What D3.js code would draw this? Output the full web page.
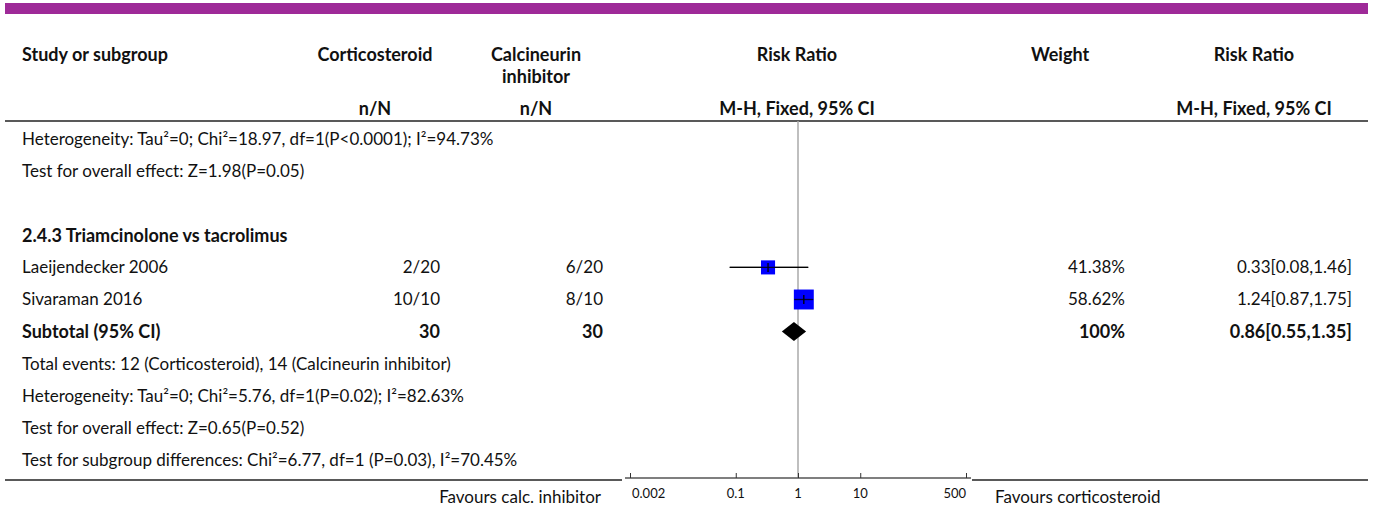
<!DOCTYPE html>
<html><head><meta charset="utf-8">
<script src="https://cdn.jsdelivr.net/npm/d3@7"></script>
<style>
html,body{margin:0;padding:0;background:#fff;}
svg text{font-family:"Lato","Roboto",sans-serif;fill:#111;}
</style></head>
<body><svg id="c" width="1375" height="508"></svg>
<script>
// ---- data ----
const headers1 = ["Study or subgroup","Corticosteroid","Calcineurin","Risk Ratio","Weight","Risk Ratio"];
const headers2 = ["n/N","n/N","M-H, Fixed, 95% CI","M-H, Fixed, 95% CI"];
const topNotes = ["Heterogeneity: Tau\u00b2=0; Chi\u00b2=18.97, df=1(P<0.0001); I\u00b2=94.73%","Test for overall effect: Z=1.98(P=0.05)"];
const subgroupTitle = "2.4.3 Triamcinolone vs tacrolimus";
const studies = ["Laeijendecker 2006","Sivaraman 2016"];
const corticoNN = ["2/20","10/10"];
const calciNN = ["6/20","8/10"];
const rrEst = [0.33,1.24];
const rrLow = [0.08,0.87];
const rrHigh = [1.46,1.75];
const weights = [41.38,58.62];
const rrText = ["0.33[0.08,1.46]","1.24[0.87,1.75]"];
const subtotalLabel = "Subtotal (95% CI)";
const subtotalN = [30,30];
const subtotalRR = [0.86,0.55,1.35];
const subtotalWeight = "100%";
const subtotalText = "0.86[0.55,1.35]";
const bottomNotes = ["Total events: 12 (Corticosteroid), 14 (Calcineurin inhibitor)","Heterogeneity: Tau\u00b2=0; Chi\u00b2=5.76, df=1(P=0.02); I\u00b2=82.63%","Test for overall effect: Z=0.65(P=0.52)","Test for subgroup differences: Chi\u00b2=6.77, df=1 (P=0.03), I\u00b2=70.45%"];
const tickValues = [0.002,0.1,1,10,500];
const favours = ["Favours calc. inhibitor","Favours corticosteroid"];

// ---- layout ----
const svg = d3.select("#c");
const x = d3.scaleLog().domain([0.002,500]).range([630,966]);
const rowY = d3.scaleLinear().domain([0,10]).range([139,460]);
const sq = d3.scaleLinear().domain([0,100]).range([0,34]);
const FS = 17, FB = 18;

svg.append("rect").attr("x",5).attr("y",3).attr("width",1363).attr("height",11).attr("fill","#9e2a98");

function txt(t,xx,yy,anchor,bold,size){
  return svg.append("text").attr("x",xx).attr("y",yy).attr("dy","0.35em")
    .attr("text-anchor",anchor||"start").attr("font-weight",bold?"bold":"normal")
    .attr("font-size",size||(bold?FB:FS)).text(t);
}
// headers
const hx = [22,375,536,797,1060,1254];
headers1.forEach((h,i)=>txt(h,hx[i],55,i===0?"start":"middle",true));
txt("inhibitor",536,77,"middle",true);
[375,536,797,1254].forEach((xx,i)=>txt(headers2[i],xx,109,"middle",true));
svg.append("line").attr("x1",5).attr("x2",1368).attr("y1",121).attr("y2",121).attr("stroke","#222").attr("stroke-width",1.5);

// reference line
svg.append("line").attr("x1",x(1)).attr("x2",x(1)).attr("y1",121).attr("y2",478).attr("stroke","#aaa").attr("stroke-width",1.5);

// top notes
topNotes.forEach((t,i)=>txt(t,22,rowY(i)));
txt(subgroupTitle,22,rowY(3),"start",true);

// studies
studies.forEach((s,i)=>{
  const y = rowY(4+i);
  txt(s,22,y);
  txt(corticoNN[i],440,y,"end");
  txt(calciNN[i],603,y,"end");
  txt(weights[i].toFixed(2)+"%",1125,y,"end");
  txt(rrText[i],1352,y,"end");
  const side = sq(weights[i]);
  svg.append("line").attr("x1",x(rrLow[i])).attr("x2",x(rrHigh[i])).attr("y1",y).attr("y2",y).attr("stroke","#000").attr("stroke-width",1.3);
  svg.append("rect").attr("x",x(rrEst[i])-side/2).attr("y",y-side/2).attr("width",side).attr("height",side).attr("fill","#0000ff");
  svg.append("line").attr("x1",x(rrLow[i])).attr("x2",x(rrHigh[i])).attr("y1",y).attr("y2",y).attr("stroke","#000").attr("stroke-width",1.3).attr("opacity",0.8);
  svg.append("line").attr("x1",x(rrEst[i])).attr("x2",x(rrEst[i])).attr("y1",y-4.5).attr("y2",y+4.5).attr("stroke","#000").attr("stroke-width",1.3);
});
// subtotal
const ys = rowY(6);
txt(subtotalLabel,22,ys,"start",true);
txt(subtotalN[0],440,ys,"end",true);
txt(subtotalN[1],603,ys,"end",true);
txt(subtotalWeight,1125,ys,"end",true);
txt(subtotalText,1352,ys,"end",true);
svg.append("path").attr("d",`M${x(subtotalRR[1])},${ys}L${x(subtotalRR[0])},${ys-9.5}L${x(subtotalRR[2])},${ys}L${x(subtotalRR[0])},${ys+9.5}Z`).attr("fill","#000");

bottomNotes.forEach((t,i)=>txt(t,22,rowY(7+i)));

// bottom lines & axis
svg.append("line").attr("x1",5).attr("x2",622).attr("y1",480).attr("y2",480).attr("stroke","#222").attr("stroke-width",1.5);
svg.append("line").attr("x1",972).attr("x2",1368).attr("y1",480).attr("y2",480).attr("stroke","#222").attr("stroke-width",1.5);
const ax = svg.append("g").attr("transform","translate(0,478)")
  .call(d3.axisTop(x).tickValues(tickValues).tickSize(5).tickSizeOuter(0).tickFormat(d=>String(d)));
ax.select(".domain").attr("stroke","#555").attr("stroke-width",1.5).attr("d","M625,0H971");
ax.selectAll(".tick line").attr("stroke","#333");
ax.selectAll(".tick text").remove();
tickValues.forEach((v,i)=>txt(String(v),x(v)+(i===0?2:0),493,i===0?"start":(i===tickValues.length-1?"end":"middle"),false,13));
txt(favours[0],601,497,"end");
txt(favours[1],995,497,"start");
</script></body></html>
